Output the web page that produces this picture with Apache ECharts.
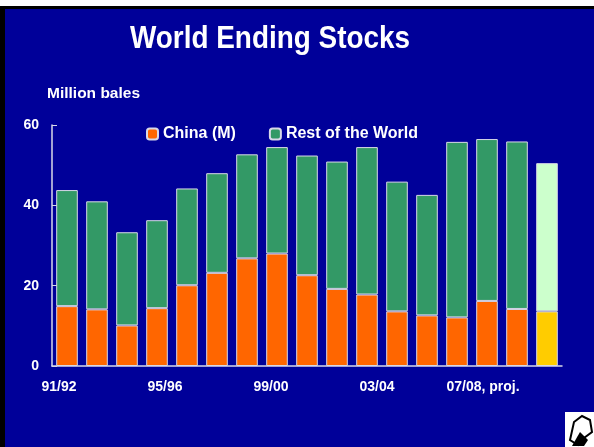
<!DOCTYPE html>
<html>
<head>
<meta charset="utf-8">
<script src="https://cdn.jsdelivr.net/npm/echarts@6/dist/echarts.min.js"></script>
<style>
    html, body { margin: 0; padding: 0; background: #ffffff; }
    #chart { width: 594px; height: 447px; }
</style>
</head>
<body>
<div id="chart"></div>
<script>
// marketing years, one bar each
const years = ["91/92", "92/93", "93/94", "94/95", "95/96", "96/97", "97/98", "98/99",
    "99/00", "00/01", "01/02", "02/03", "03/04", "04/05", "05/06", "06/07", "07/08"];
// million bales
const china = [14.9, 14.1, 10.1, 14.4, 20.1, 23.2, 26.8, 28.0, 22.6, 19.2, 17.8, 13.6, 12.6, 12.1, 16.2, 14.2, 13.6];
const restOfWorld = [28.9, 26.9, 23.2, 21.9, 24.1, 24.8, 25.9, 26.5, 29.8, 31.7, 36.7, 32.3, 30.0, 43.7, 40.3, 41.7, 36.9];
// labels under the axis, as on the slide
const tickLabels = ["91/92", "95/96", "99/00", "03/04", "07/08, proj."];
const projIndex = 16;

const chartDom = document.getElementById("chart");
const myChart = echarts.init(chartDom);

const edge = "#d8d8e8";
const font = "Liberation Sans, Arial, sans-serif";
const txt = { color: "#ffffff", fontFamily: font, fontWeight: "bold" };

// 最后一根柱子是预测值,换颜色
const chinaData = china.map((v, i) =>
    i === projIndex ? { value: v, itemStyle: { color: "#ffcc00" } } : v
);
const rowData = restOfWorld.map((v, i) =>
    i === projIndex ? { value: v, itemStyle: { color: "#ccffcc" } } : v
);

const option = {
    backgroundColor: "#000099",
    animation: false,
    graphic: [
        { type: "rect", shape: { x: 0, y: 0, width: 594, height: 6 }, style: { fill: "#ffffff" } },
        { type: "rect", shape: { x: 0, y: 6, width: 594, height: 3 }, style: { fill: "#000000" } },
        { type: "rect", shape: { x: 0, y: 6, width: 5, height: 441 }, style: { fill: "#000000" } },
        {
            type: "text",
            x: 270,
            y: 39,
            scaleX: 0.9,
            style: {
                text: "World Ending Stocks",
                fill: "#ffffff",
                font: "bold 31px " + font,
                textAlign: "center",
                textVerticalAlign: "middle",
            },
        },
        { type: "text", left: 47, top: 86, style: { text: "Million bales", fill: "#ffffff", font: "bold 15.5px " + font } },
        { type: "rect", shape: { x: 565, y: 412, width: 29, height: 35 }, style: { fill: "#ffffff" } },
        {
            type: "polygon",
            shape: { points: [[570, 440], [574, 422], [582, 416], [590, 420], [592, 432], [584, 438], [578, 445]] },
            style: { fill: "#ffffff", stroke: "#000000", lineWidth: 2 },
        },
        {
            type: "polygon",
            shape: { points: [[572, 446], [580, 432], [588, 440], [584, 446]] },
            style: { fill: "#000000" },
        },
    ],
    legend: {
        data: ["China (M)", "Rest of the World"],
        left: 141,
        top: 121,
        itemWidth: 11,
        itemHeight: 11,
        itemGap: 33,
        textStyle: { ...txt, fontSize: 16 },
    },
    grid: [
        { left: 52, right: 32, top: 125, bottom: 81 },
        { left: 59, right: 111, top: 125, bottom: 81 },
    ],
    xAxis: [
        {
            type: "category",
            data: years,
            gridIndex: 0,
            axisLine: { lineStyle: { color: edge, width: 1.5 } },
            axisTick: { inside: true, length: 5, lineStyle: { color: edge } },
            axisLabel: { show: false },
        },
        {
            type: "category",
            data: tickLabels,
            gridIndex: 1,
            boundaryGap: false,
            axisLine: { show: false },
            axisTick: { show: false },
            axisLabel: { ...txt, fontSize: 14, margin: 14, interval: 0 },
        },
    ],
    yAxis: [
        {
            type: "value",
            gridIndex: 0,
            min: 0,
            max: 60,
            interval: 20,
            splitLine: { show: false },
            axisLine: { show: true, lineStyle: { color: edge, width: 1.5 } },
            axisTick: { show: true, inside: true, length: 5, lineStyle: { color: edge } },
            axisLabel: { ...txt, fontSize: 14, margin: 13 },
        },
        { type: "value", gridIndex: 1, min: 0, max: 1, show: false },
    ],
    series: [
        {
            name: "China (M)",
            type: "bar",
            stack: "total",
            barCategoryGap: "28%",
            data: chinaData,
            itemStyle: { color: "#ff6600", borderColor: edge, borderWidth: 1 },
        },
        {
            name: "Rest of the World",
            type: "bar",
            stack: "total",
            barCategoryGap: "28%",
            data: rowData,
            itemStyle: { color: "#339966", borderColor: edge, borderWidth: 1 },
        },
    ],
};

myChart.setOption(option);
</script>
</body>
</html>
